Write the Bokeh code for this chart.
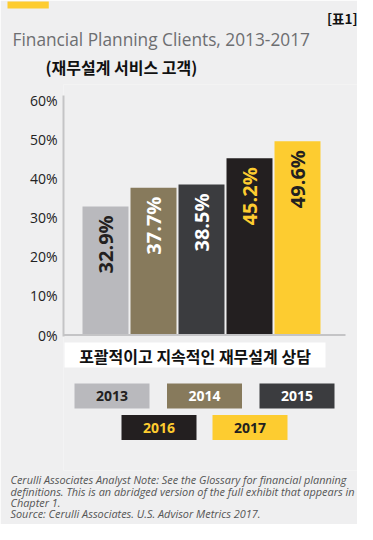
import numpy as np
from bokeh.plotting import figure
from bokeh.models import Range1d, FixedTicker, PrintfTickFormatter, ColumnDataSource, Title
from bokeh.core.properties import value
from bokeh.embed import file_html
from bokeh.resources import INLINE

# ---------------- data ----------------
years = ["2013", "2014", "2015", "2016", "2017"]
shares = [32.9, 37.7, 38.5, 45.2, 49.6]
bar_colors = ["#b9b9bd", "#877a5c", "#3b3c3f", "#231f20", "#fdcc30"]
label_colors = ["#231f20", "#ffffff", "#ffffff", "#fdcc30", "#231f20"]
y_ticks = [0, 10, 20, 30, 40, 50, 60]

title_text = "Financial Planning Clients, 2013-2017"
subtitle_text = "(재무설계 서비스 고객)"
tag_text = "[표1]"
category_text = "포괄적이고 지속적인 재무설계 상담"
footer_lines = [
    "Cerulli Associates Analyst Note: See the Glossary for financial planning",
    "definitions. This is an abridged version of the full exhibit that appears in",
    "Chapter 1.",
    "Source: Cerulli Associates. U.S. Advisor Metrics 2017.",
]

BG = "#efeff0"
FONT = "Open Sans"
KFONT = "Noto Sans CJK KR"

# ---------------- layout (canvas pixels) ----------------
W, H = 357, 524
FR_L, FR_R, FR_T, FR_B = 63, 357, 84, 470
PX_PER_CAT = 48.0
FIRST_CENTER = 105.0
ZERO_PX = 334.5
PX_PER_PCT = 3.908


def X(px):  # canvas x -> data x
    return (px - FIRST_CENTER) / PX_PER_CAT


def Y(py):  # canvas y -> data y
    return (ZERO_PX - py) / PX_PER_PCT


p = figure(width=W, height=H, x_range=Range1d(X(FR_L), X(FR_R)), y_range=Range1d(Y(FR_B), Y(FR_T)),
           output_backend="svg", toolbar_location=None,
           min_border_left=FR_L, min_border_right=W - FR_R,
           min_border_top=FR_T, min_border_bottom=H - FR_B)
p.background_fill_color = BG
p.border_fill_color = BG
p.outline_line_color = None
p.grid.visible = False
p.xaxis.visible = False

# ---------------- bars ----------------
idx = list(range(len(years)))
src = ColumnDataSource(dict(
    x=idx, top=shares, color=bar_colors,
    ly=[v - 2.3 for v in shares], label=[f"{v:.1f}%" for v in shares], lcolor=label_colors,
))
p.vbar(x="x", top="top", bottom=0, width=0.958, color="color", line_color=None, source=src)
p.text(x="x", y="ly", text="label", angle=np.pi / 2, text_align="right", text_baseline="middle",
       text_color="lcolor", text_font=value(FONT), text_font_size="20px", text_font_style="bold",
       source=src)

# baseline (x axis line)
p.segment(x0=[X(FR_L)], x1=[len(years)], y0=[0], y1=[0], line_color="#c4c4c6", line_width=2)

# ---------------- y axis ----------------
p.yaxis.ticker = FixedTicker(ticks=y_ticks)
p.yaxis.formatter = PrintfTickFormatter(format="%d%%")
p.yaxis.bounds = (Y(336), Y(95))
p.yaxis.axis_line_color = "#c4c4c6"
p.yaxis.axis_line_width = 2
p.yaxis.major_tick_line_color = None
p.yaxis.minor_tick_line_color = None
p.yaxis.major_tick_out = 0
p.yaxis.major_label_standoff = 6
p.yaxis.major_label_text_font = FONT
p.yaxis.major_label_text_font_size = "14px"
p.yaxis.major_label_text_color = "#222222"

# ---------------- category box + legend (glyphs inside the frame) ----------------
p.quad(left=[X(64)], right=[X(325)], top=[Y(342)], bottom=[Y(367)], color="#ffffff", line_color=None)
p.text(x=[X(194.5)], y=[Y(355)], text=[category_text], text_align="center", text_baseline="middle",
       text_font=value(KFONT), text_font_size="16px", text_font_style="bold", text_color="#111111")

lx = [X(111.5 + 92.5 * i) if i < 3 else X(158.5 + 91 * (i - 3)) for i in idx]
ly = [Y(395.5) if i < 3 else Y(427) for i in idx]
lsrc = ColumnDataSource(dict(x=lx, y=ly, year=years, color=bar_colors, tcolor=label_colors))
p.rect(x="x", y="y", width=75 / PX_PER_CAT, height=25 / PX_PER_PCT, color="color", line_color=None,
       source=lsrc)
p.text(x="x", y="y", text="year", text_align="center", text_baseline="middle",
       text_color="tcolor", text_font=value(FONT), text_font_size="14px", text_font_style="bold",
       source=lsrc)

# ---------------- header titles (closest to frame first) ----------------
p.add_layout(Title(text=subtitle_text, align="left", offset=45 - FR_L, standoff=12,
                   text_font=KFONT, text_font_size="16px", text_font_style="bold",
                   text_color="#111111"), "above")
p.add_layout(Title(text=title_text, align="left", offset=12 - FR_L, standoff=-8,
                   text_font=FONT, text_font_size="17.3px", text_font_style="normal",
                   text_color="#6d6e71"), "above")
p.add_layout(Title(text=tag_text, align="right", offset=0, standoff=3,
                   text_font=KFONT, text_font_size="13.5px", text_font_style="bold",
                   text_color="#111111"), "above")
try:
    p.add_layout(Title(text="\u00a0", align="left", offset=7 - FR_L, standoff=-8,
                       text_font_size="1px", background_fill_color="#fdcc30",
                       padding=dict(left=0, right=41, top=3, bottom=3)), "above")
except Exception:
    pass

# ---------------- footer ----------------
p.add_layout(Title(text="\n".join(footer_lines), align="left", offset=10 - FR_L, standoff=0,
                   text_font=FONT, text_font_size="10.9px", text_font_style="italic",
                   text_color="#555555", text_line_height=0.76), "below")

open("out.html", "w").write(file_html(p, INLINE))
